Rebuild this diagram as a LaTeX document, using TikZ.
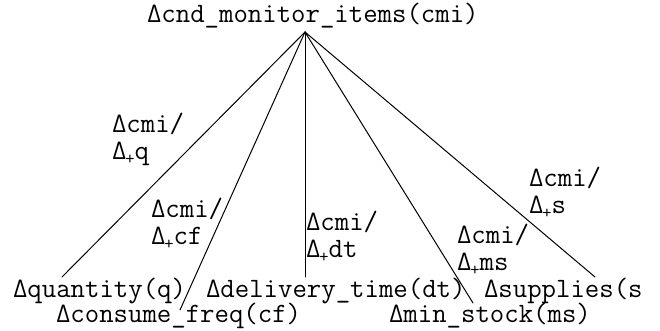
\documentclass[tikz,border=0pt]{standalone}
\usepackage{fontspec}
\newcommand{\dplus}{Δ\kern-1pt\raisebox{-5pt}{\fontsize{18}{18}\selectfont+}\kern0pt}
\tikzset{
  lbl/.style={inner sep=0pt, outer sep=0pt, anchor=base west, font=\ttfamily\fontsize{28}{27}\selectfont},
  elbl/.style={lbl, align=left},
  edgeline/.style={line width=1pt, line cap=round}
}
\begin{document}
\begin{tikzpicture}[x=1pt,y=-1pt]
\useasboundingbox[fill=white] (0,0) rectangle (660,331);
% root
\node[lbl] (root) at (147,23) {Δcnd\_monitor\_items(cmi)};
\coordinate (apex) at (305,32);
% leaves
\node[lbl] (q)  at (13,297)  {Δquantity(q)};
\node[lbl] (cf) at (56,322)  {Δconsume\_freq(cf)};
\node[lbl] (dt) at (206,297) {Δdelivery\_time(dt)};
\node[lbl] (ms) at (389,322) {Δmin\_stock(ms)};
\node[lbl] (s)  at (484,297) {Δsupplies(s};
% line ends
\coordinate (eq)  at (62,277);
\coordinate (ecf) at (180,310);
\coordinate (edt) at (305,277);
\coordinate (ems) at (473,303);
\coordinate (es)  at (595,277);
\draw[edgeline] (apex) -- (eq);
\draw[edgeline] (apex) -- (ecf);
\draw[edgeline] (apex) -- (edt);
\draw[edgeline] (apex) -- (ems);
\draw[edgeline] (apex) -- (es);
% edge labels
\node[elbl] (lq)  at (112,160) {Δcmi/\\\dplus q};
\node[elbl] (lcf) at (151,244) {Δcmi/\\\dplus cf};
\node[elbl] (ldt) at (306,257) {Δcmi/\\\dplus dt};
\node[elbl] (lms) at (457,270) {Δcmi/\\\dplus ms};
\node[elbl] (ls)  at (529,213) {Δcmi/\\\dplus s};
\end{tikzpicture}
\end{document}
